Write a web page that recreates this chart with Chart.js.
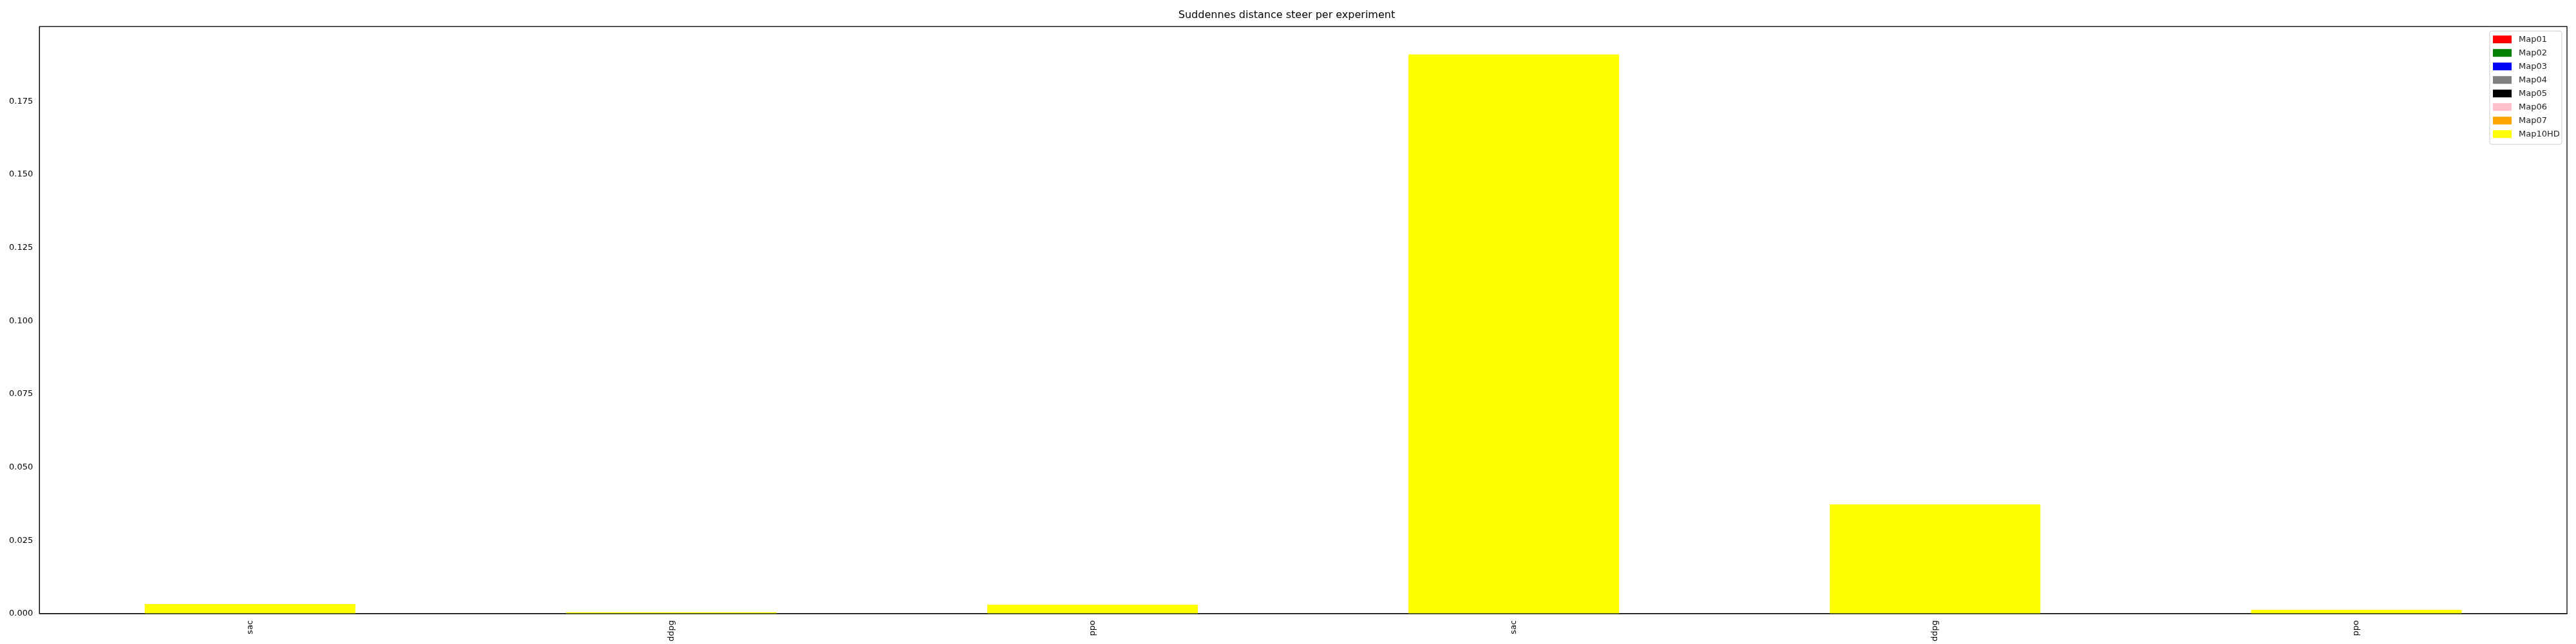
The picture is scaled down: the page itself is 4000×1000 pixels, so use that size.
<!DOCTYPE html>
<html><head><script src="https://cdn.jsdelivr.net/npm/chart.js@4"></script>
<style>body{margin:0;background:#fff}</style></head>
<body><div style="width:4000px;height:1000px"><canvas id="c"></canvas></div>
<script>
const categories=["sac","ddpg","ppo","sac","ddpg","ppo"];
const seriesNames=["Map01","Map02","Map03","Map04","Map05","Map06","Map07","Map10HD"];
const seriesColors=["red","green","blue","grey","black","pink","orange","yellow"];
const map01=[0,0,0,0,0,0],map02=[0,0,0,0,0,0],map03=[0,0,0,0,0,0],map04=[0,0,0,0,0,0],
map05=[0,0,0,0,0,0],map06=[0,0,0,0,0,0],map07=[0,0,0,0,0,0];
const map10HD=[0.0033,0.0005,0.0031,0.191,0.0373,0.0013];
const seriesValues=[map01,map02,map03,map04,map05,map06,map07,map10HD];
const yTicks=[0,0.025,0.05,0.075,0.1,0.125,0.15,0.175];
const F='"DejaVu Sans"';
Chart.defaults.font.family=F;Chart.defaults.color='#000';
const legendPlugin={id:'lg',afterDraw(ch){const c=ch.ctx,a=ch.chartArea;
 const w=112,h=8*21+8,x=a.right-w-8,y=a.top+7;
 c.save();c.fillStyle='rgba(255,255,255,0.8)';c.strokeStyle='#ccc';c.lineWidth=1;
 c.beginPath();c.roundRect(x,y,w,h,3);c.fill();c.stroke();
 c.font='13px '+F;c.textBaseline='middle';
 seriesNames.forEach((n,i)=>{const yy=y+13+i*21;c.fillStyle=seriesColors[i];c.fillRect(x+5,yy-6,29,12);
 c.fillStyle='#222';c.fillText(n,x+45,yy);});c.restore();}};
const frame={id:'fr',afterDraw(ch){const c=ch.ctx,a=ch.chartArea;c.save();c.strokeStyle='#000';c.lineWidth=1.3;c.strokeRect(a.left,a.top,a.right-a.left,a.bottom-a.top);c.restore();}};
new Chart(document.getElementById('c'),{type:'bar',
data:{labels:categories,datasets:seriesNames.map((n,i)=>({label:n,data:seriesValues[i],backgroundColor:seriesColors[i],barPercentage:0.5,categoryPercentage:1}))},
options:{responsive:true,maintainAspectRatio:false,animation:false,
layout:{padding:{left:10,right:14,top:6,bottom:0}},
plugins:{legend:{display:false},tooltip:{enabled:false},
title:{display:true,text:'Suddennes distance steer per experiment',font:{size:16,weight:'normal'},padding:{top:8,bottom:8}}},
scales:{x:{stacked:true,grid:{display:false,drawTicks:true,tickLength:6,tickColor:'#000'},border:{color:'#000'},
 ticks:{maxRotation:90,minRotation:90,font:{size:13},padding:4}},
 y:{stacked:true,min:0,max:0.2005,grid:{display:false,tickLength:6,tickColor:'#000'},border:{color:'#000'},
 afterBuildTicks(s){s.ticks=yTicks.map(v=>({value:v}));},
 ticks:{font:{size:13},padding:4,callback:v=>v.toFixed(3)}}}},
plugins:[legendPlugin,frame]});
</script></body></html>
